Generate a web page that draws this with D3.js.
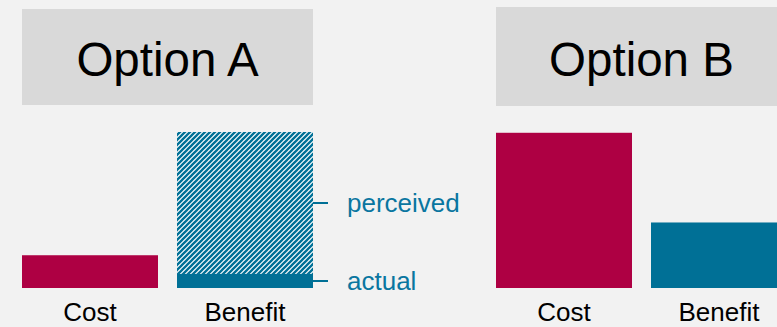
<!DOCTYPE html>
<html>
<head>
<meta charset="utf-8">
<script src="https://cdn.jsdelivr.net/npm/d3@7"></script>
<style>
  html, body { margin: 0; padding: 0; background: #f2f2f2; overflow: hidden; }
  svg { display: block; }
  text { font-family: "Liberation Sans", Arial, sans-serif; }
</style>
</head>
<body>
<svg id="chart" width="777" height="327"></svg>
<script>
// ---- data ----
const options = ["Option A", "Option B"];
const categories = ["Cost", "Benefit"];
const costValues = [2.1, 9.95];
const benefitActual = [0.9, 4.2];
const benefitPerceived = [10, null];
const annotationLabels = ["perceived", "actual"];

// ---- colours ----
const crimson = "#ae0043";
const teal = "#007096";
const labelTeal = "#0a76a0";

const svg = d3.select("#chart");
svg.append("rect").attr("width", 777).attr("height", 327).attr("fill", "#f2f2f2");

// hatch pattern
const defs = svg.append("defs");
const pat = defs.append("pattern")
  .attr("id", "hatch").attr("patternUnits", "userSpaceOnUse")
  .attr("width", 5).attr("height", 5);
pat.append("rect").attr("width", 5).attr("height", 5).attr("fill", "#ffffff");
pat.append("path").attr("d", "M0,5 L5,0 M-1,1 L1,-1 M4,6 L6,4")
  .attr("stroke", teal).attr("stroke-width", 2.3);

// scales
const xPanel = d3.scaleBand().domain(options).range([22, 787]).paddingInner(183 / 474);
const xCat = d3.scaleBand().domain(categories).range([0, xPanel.bandwidth()]).paddingInner(19 / 155);
const y = d3.scaleLinear().domain([0, 10]).range([288, 132]);

const titleBoxes = [{ y: 9, h: 96 }, { y: 7, h: 99 }];

options.forEach((opt, i) => {
  const g = svg.append("g").attr("transform", `translate(${xPanel(opt)},0)`);
  const w = xPanel.bandwidth();
  // title box
  g.append("rect").attr("x", 0).attr("y", titleBoxes[i].y)
    .attr("width", w).attr("height", titleBoxes[i].h).attr("fill", "#d9d9d9");
  g.append("text").attr("x", w / 2).attr("y", 76).attr("text-anchor", "middle")
    .attr("font-size", 47.5).attr("fill", "#000").text(opt);

  // cost bar
  g.append("rect").attr("x", xCat("Cost")).attr("y", y(costValues[i]))
    .attr("width", xCat.bandwidth()).attr("height", y(0) - y(costValues[i]))
    .attr("fill", crimson);

  // benefit perceived (hatched)
  if (benefitPerceived[i] != null) {
    g.append("rect").attr("x", xCat("Benefit")).attr("y", y(benefitPerceived[i]))
      .attr("width", xCat.bandwidth())
      .attr("height", y(benefitActual[i]) - y(benefitPerceived[i]))
      .attr("fill", "url(#hatch)");
  }
  // benefit actual
  g.append("rect").attr("x", xCat("Benefit")).attr("y", y(benefitActual[i]))
    .attr("width", xCat.bandwidth()).attr("height", y(0) - y(benefitActual[i]))
    .attr("fill", teal);

  // category labels
  categories.forEach(c => {
    g.append("text").attr("x", xCat(c) + xCat.bandwidth() / 2).attr("y", 321)
      .attr("text-anchor", "middle").attr("font-size", 26).attr("fill", "#000").text(c);
  });

  // annotations
  if (benefitPerceived[i] != null) {
    const right = xCat("Benefit") + xCat.bandwidth();
    const ys = [
      (y(benefitPerceived[i]) + y(benefitActual[i])) / 2,
      (y(benefitActual[i]) + y(0)) / 2
    ];
    ys.forEach((yy, k) => {
      g.append("line").attr("x1", right).attr("x2", right + 15)
        .attr("y1", yy).attr("y2", yy).attr("stroke", teal).attr("stroke-width", 2);
      g.append("text").attr("x", right + 34).attr("y", yy).attr("dy", "0.35em")
        .attr("font-size", 26).attr("fill", labelTeal).text(annotationLabels[k]);
    });
  }
});
</script>
</body>
</html>
